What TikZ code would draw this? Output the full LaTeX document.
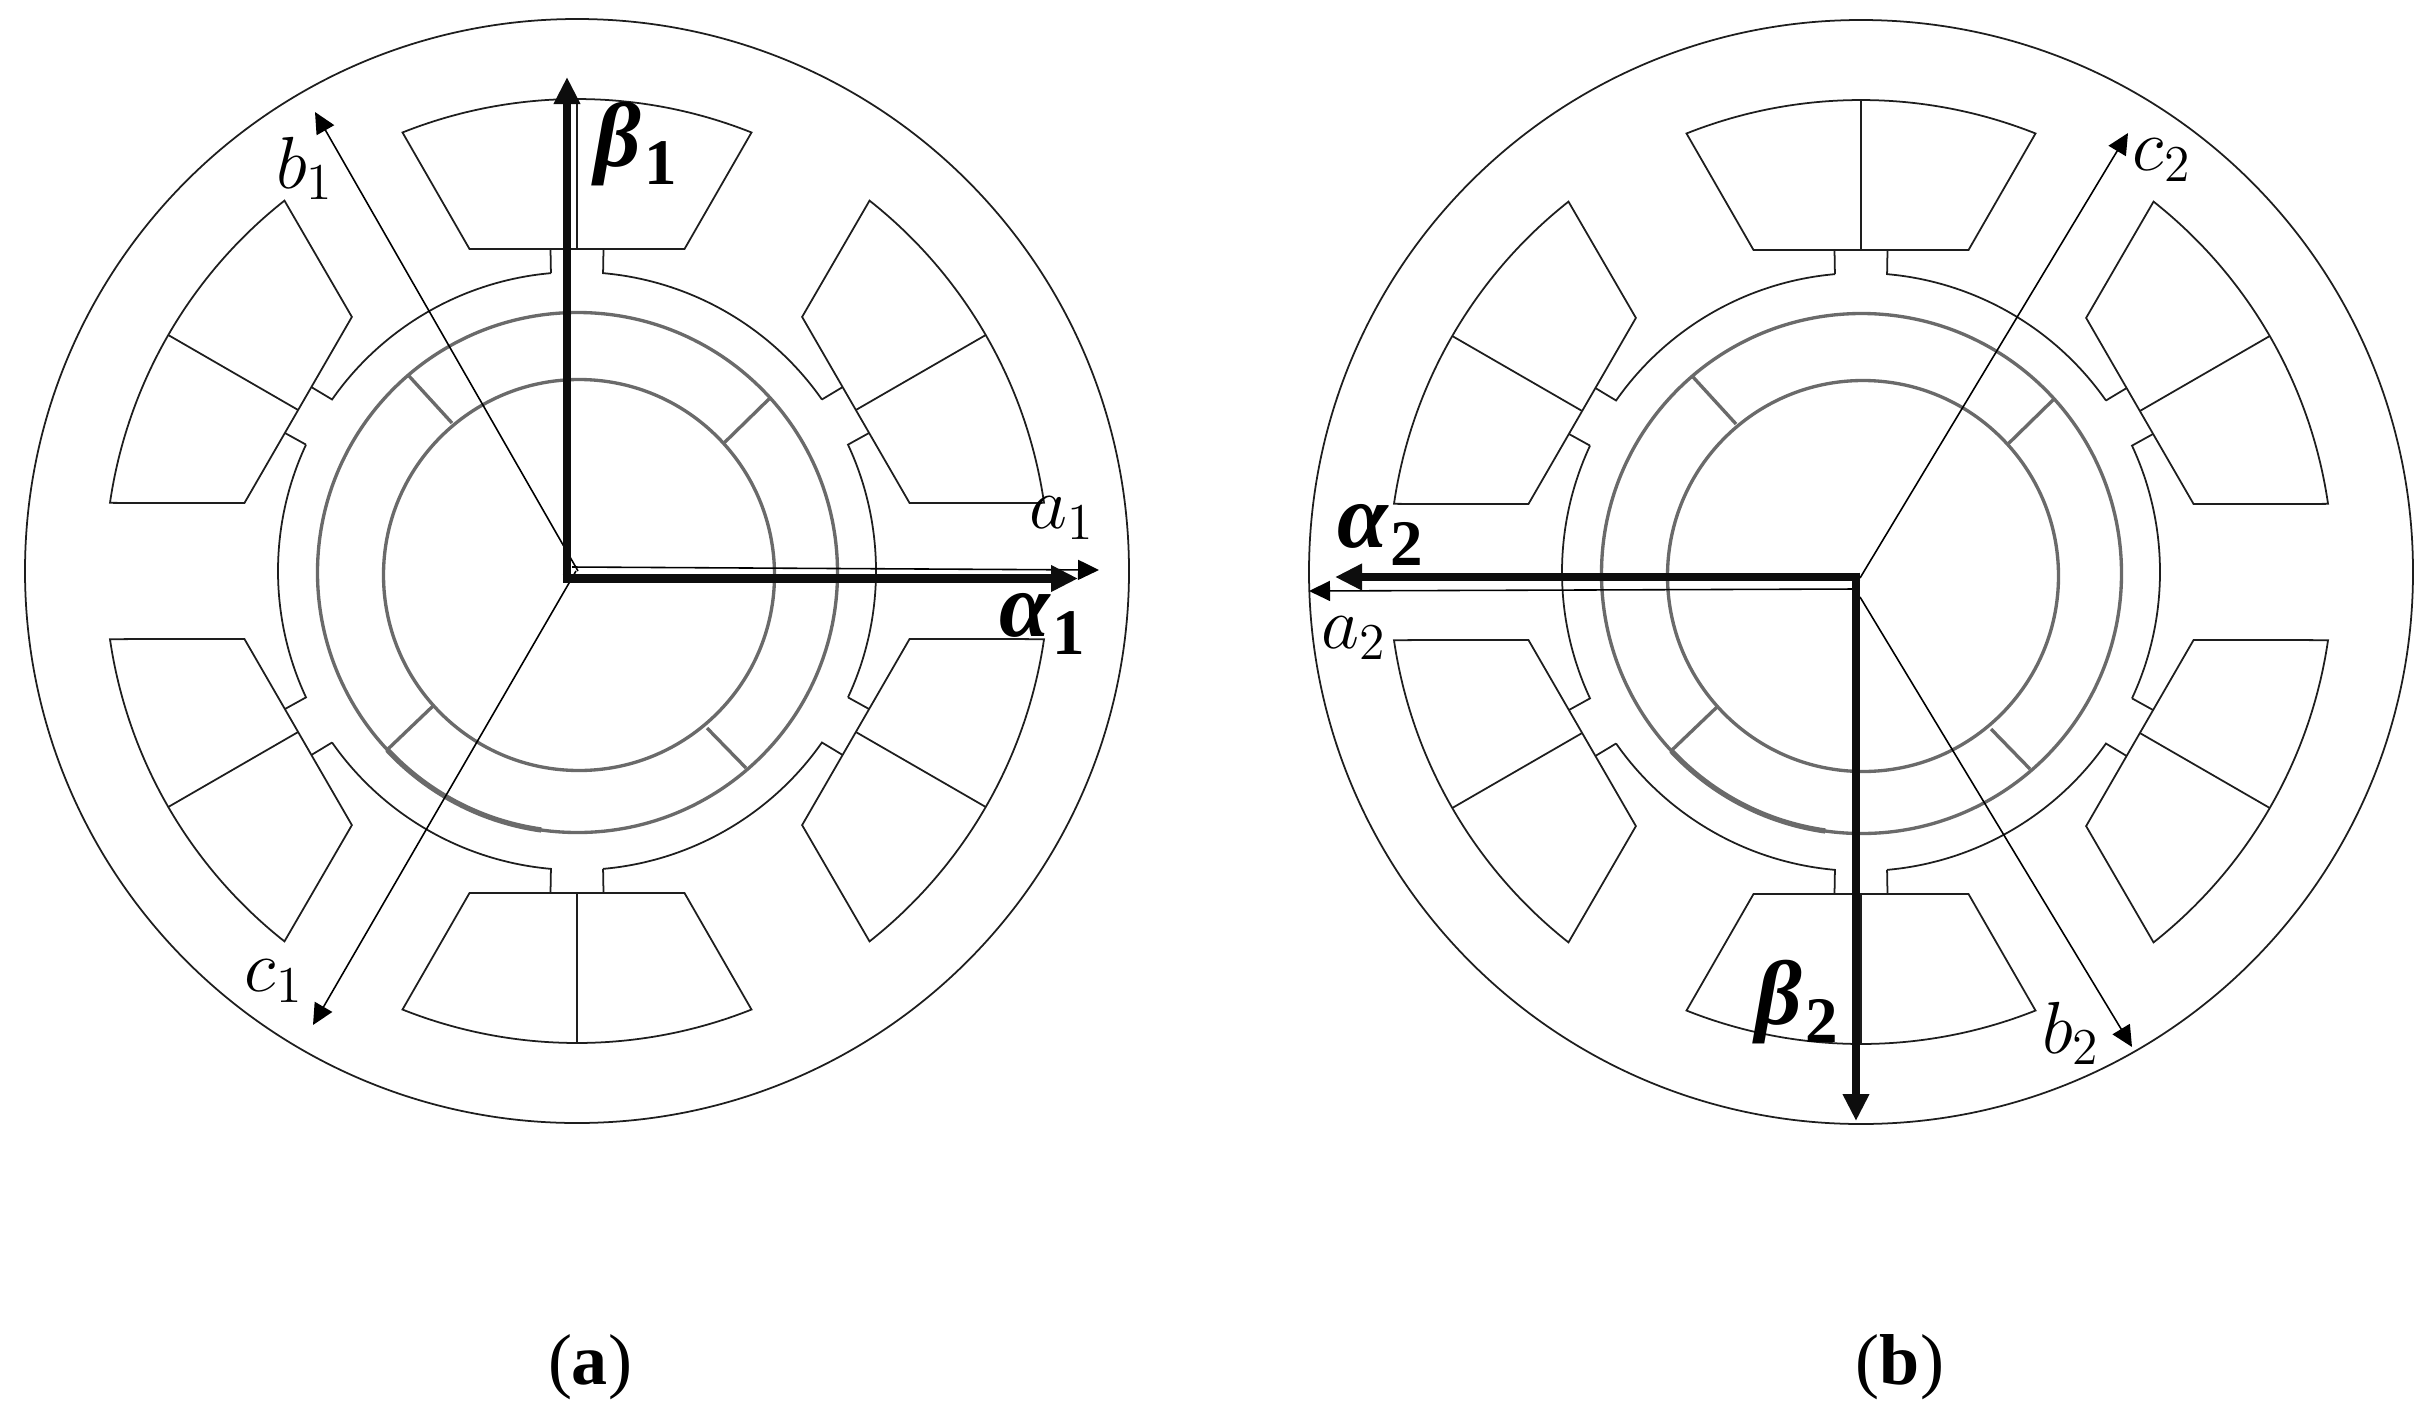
\RequirePackage{fix-cm}
\documentclass[tikz,border=0pt]{standalone}
\usepackage{amsmath}
\usepackage[no-math]{fontspec}
\setmainfont{Liberation Serif}
\usetikzlibrary{arrows.meta}
\definecolor{statorink}{HTML}{1E1E1E}
\definecolor{rotorink}{HTML}{6A6A6A}
\newcommand{\boldsym}[2]{{\bfseries\itshape #1}\kern0.03em\raisebox{-0.2em}{\fontsize{18.5}{22}\selectfont\bfseries\upshape #2}}
\tikzset{
  statorline/.style={draw=statorink,line width=0.5pt,line join=miter},
  rotorline/.style={draw=rotorink,line width=0.95pt},
  rotorheavy/.style={draw=rotorink,line width=1.5pt},
  thinaxis/.style={draw=black,line width=0.45pt,-{Triangle[length=0.21cm,width=0.2cm]}},
  thickaxis/.style={draw=black!95,line width=2.5pt,-{Triangle[length=0.27cm,width=0.25cm]},shorten <=-1.25pt},
  boldlabel/.style={inner sep=0pt,font=\fontsize{26}{30}\selectfont},
  thinlabel/.style={inner sep=0pt,font=\fontsize{21}{25}\selectfont},
  caplabel/.style={inner sep=0pt,font=\fontsize{20.5}{24}\selectfont},
  motor/.pic={
    \draw[statorline] (0,0) circle (5.52);
    \foreach \t in {90,30,-30,-90,-150,150}{
      \begin{scope}[rotate=\t-90]
        \draw[statorline] (-1.075,3.22) -- (111.7:4.72) arc[start angle=111.7,end angle=68.3,radius=4.72] -- (1.075,3.22) -- cycle;
        \draw[statorline] (0,3.22) -- (0,4.72);
        \draw[statorline] (-0.265,3.22) -- (95:2.99);
        \draw[statorline] (0.265,3.22) -- (85:2.99) arc[start angle=85,end angle=35,radius=2.99];
      \end{scope}
    }
    \draw[rotorline] (0.005,-0.015) circle (2.60);
    \draw[rotorline] (0.02,-0.04) circle (1.955);
    \draw[rotorline] (-1.68,1.95) -- (-1.25,1.48);
    \draw[rotorline] (1.93,1.73) -- (1.47,1.28);
    \draw[rotorline] (-1.89,-1.78) -- (-1.44,-1.35);
    \draw[rotorline] (1.69,-1.97) -- (1.30,-1.57);
    \draw[rotorheavy] ([shift={(0.005,-0.015)}]223:2.60) arc[start angle=223,end angle=262,radius=2.60];
  }
}
\begin{document}
\begin{tikzpicture}
\useasboundingbox (0,0) rectangle (24.33,-14.17);
\fill[white] (0,0) rectangle (24.33,-14.17);
\pic at (5.77,-5.71) {motor};
\pic at (18.61,-5.72) {motor};
% left motor axes
\coordinate (oa1) at (5.72,-5.67);
\coordinate (ob1) at (5.78,-5.71);
\coordinate (oc1) at (5.76,-5.71);
\coordinate (a1tip) at (10.99,-5.70);
\coordinate (b1tip) at (3.15,-1.12);
\coordinate (c1tip) at (3.13,-10.25);
\coordinate (ot1) at (5.67,-5.785);
\coordinate (alpha1tip) at (10.78,-5.785);
\coordinate (beta1tip) at (5.67,-0.77);
\draw[thinaxis] (oa1) -- (a1tip);
\draw[thinaxis] (ob1) -- (b1tip);
\draw[thinaxis] (oc1) -- (c1tip);
\draw[thickaxis] (ot1) -- (alpha1tip);
\draw[thickaxis] (ot1) -- (beta1tip);
% right motor axes
\coordinate (oa2) at (18.56,-5.89);
\coordinate (ob2) at (18.60,-5.97);
\coordinate (oc2) at (18.60,-5.78);
\coordinate (a2tip) at (13.09,-5.91);
\coordinate (b2tip) at (21.32,-10.47);
\coordinate (c2tip) at (21.28,-1.33);
\coordinate (ot2) at (18.56,-5.77);
\coordinate (alpha2tip) at (13.35,-5.77);
\coordinate (beta2tip) at (18.56,-11.21);
\draw[thinaxis] (oa2) -- (a2tip);
\draw[thinaxis] (ob2) -- (b2tip);
\draw[thinaxis] (oc2) -- (c2tip);
\draw[thickaxis] (ot2) -- (alpha2tip);
\draw[thickaxis] (ot2) -- (beta2tip);
% labels
\node[boldlabel] (beta1) at (6.36,-1.44) {\boldsym{β}{1}};
\node[boldlabel] (alpha1) at (10.42,-6.24) {\boldsym{α}{1}};
\node[boldlabel] (alpha2) at (13.80,-5.35) {\boldsym{α}{2}};
\node[boldlabel] (beta2) at (17.97,-10.02) {\boldsym{β}{2}};
\node[thinlabel] (a1) at (10.62,-5.18) {$a_1$};
\node[thinlabel] (b1) at (3.05,-1.68) {$b_1$};
\node[thinlabel] (c1) at (2.74,-9.81) {$c_1$};
\node[thinlabel] (a2) at (13.54,-6.38) {$a_2$};
\node[thinlabel] (b2) at (20.71,-10.33) {$b_2$};
\node[thinlabel] (c2) at (21.62,-1.60) {$c_2$};
\node[caplabel] (capa) at (5.90,-13.67) {(\textbf{a})};
\node[caplabel] (capb) at (19.00,-13.67) {(\textbf{b})};
\end{tikzpicture}
\end{document}
